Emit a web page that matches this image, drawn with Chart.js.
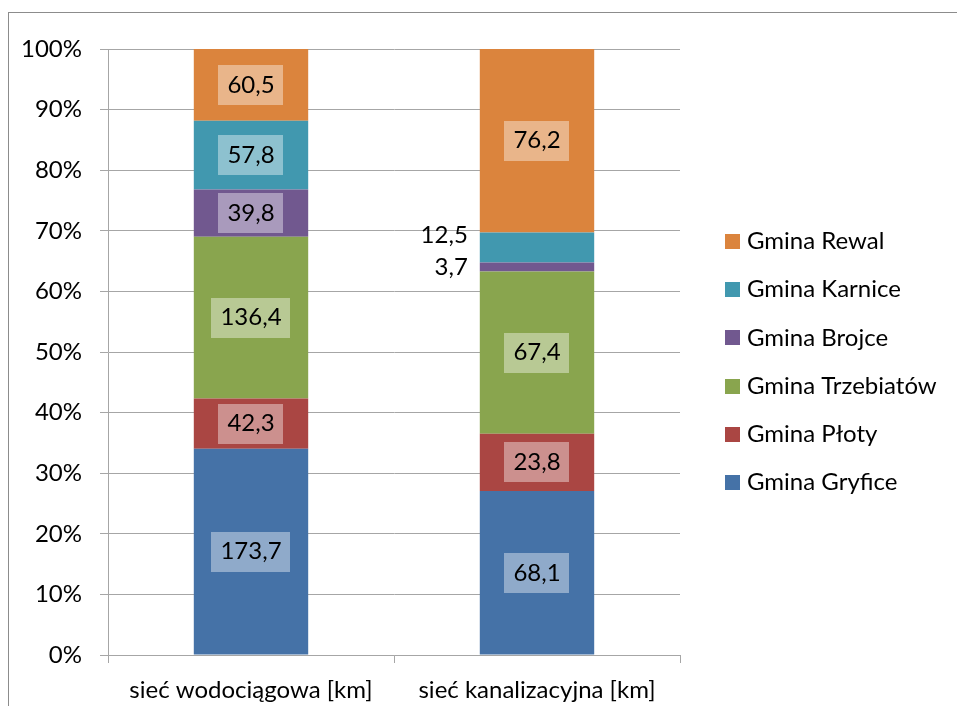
<!DOCTYPE html>
<html>
<head>
<meta charset="utf-8">
<script src="https://cdn.jsdelivr.net/npm/chart.js@4"></script>
<style>
html, body { margin: 0; padding: 0; background: #fff; }
#wrap { position: relative; width: 957px; height: 706px; overflow: hidden; }
#frame { position: absolute; left: 8px; top: 12px; width: 1000px; height: 800px; border: 1px solid #8c8c8c; }
canvas { position: absolute; left: 0; top: 0; }
</style>
</head>
<body>
<div id="wrap">
  <div id="frame"></div>
  <canvas id="myChart" width="957" height="706"></canvas>
</div>
<script>
// categories and series (km)
const categories = ['sieć wodociągowa [km]', 'sieć kanalizacyjna [km]'];
const seriesNames = ['Gmina Gryfice', 'Gmina Płoty', 'Gmina Trzebiatów', 'Gmina Brojce', 'Gmina Karnice', 'Gmina Rewal'];
const gryfice = [173.7, 68.1];
const ploty = [42.3, 23.8];
const trzebiatow = [136.4, 67.4];
const brojce = [39.8, 3.7];
const karnice = [57.8, 12.5];
const rewal = [60.5, 76.2];
const percentTicks = [0, 10, 20, 30, 40, 50, 60, 70, 80, 90, 100];

const seriesValues = [gryfice, ploty, trzebiatow, brojce, karnice, rewal];
const colors = ['#4572A7', '#AA4643', '#89A54E', '#71588F', '#4198AF', '#DB843D'];

const FONT = '24px Lato';
const GRID = '#a6a6a6';

// 100% stacking: totals per category
const totals = categories.map((c, j) => seriesValues.reduce((s, arr) => s + arr[j], 0));

const datasets = seriesValues.map((arr, i) => ({
    label: seriesNames[i],
    data: arr.map((v, j) => v / totals[j] * 100),
    raw: arr,
    backgroundColor: colors[i],
    borderWidth: 0,
    categoryPercentage: 1,
    barPercentage: 0.4
}));

function fmt(v) {
    return v.toFixed(1).replace('.', ',');
}

// value labels, boxed inside the segment or placed left of the bar when too thin
const labelPlugin = {
    id: 'segLabels',
    afterDatasetsDraw(chart) {
        const ctx = chart.ctx;
        ctx.save();
        ctx.font = FONT;
        ctx.textBaseline = 'middle';
        categories.forEach((c, j) => {
            let lastOutside = null;
            chart.data.datasets.forEach((ds, i) => {
                const bar = chart.getDatasetMeta(i).data[j];
                const p = bar.getProps(['x', 'y', 'base', 'width'], true);
                const h = p.base - p.y;
                const text = fmt(ds.raw[j]);
                let cy = (p.y + p.base) / 2;
                if (h >= 35) {
                    const w = ctx.measureText(text).width;
                    ctx.fillStyle = 'rgba(255,255,255,0.4)';
                    ctx.fillRect(Math.round(p.x - w / 2 - 9), Math.round(cy - 20), Math.round(w + 18), 40);
                    ctx.fillStyle = '#000';
                    ctx.textAlign = 'center';
                    ctx.fillText(text, p.x, cy);
                } else {
                    if (lastOutside !== null && lastOutside - cy < 32) cy = lastOutside - 32;
                    lastOutside = cy;
                    ctx.fillStyle = '#000';
                    ctx.textAlign = 'right';
                    ctx.fillText(text, p.x - p.width / 2 - 12, cy);
                }
            });
        });
        ctx.restore();
    }
};

// legend on the right, reversed order
const legendPlugin = {
    id: 'sideLegend',
    afterDraw(chart) {
        const ctx = chart.ctx;
        ctx.save();
        ctx.font = FONT;
        ctx.textBaseline = 'middle';
        ctx.textAlign = 'left';
        const items = chart.data.datasets.slice().reverse();
        items.forEach((ds, k) => {
            const cy = 241.5 + k * 48.2;
            ctx.fillStyle = ds.backgroundColor;
            ctx.fillRect(725, Math.round(cy - 7.5), 15, 15);
            ctx.fillStyle = '#000';
            ctx.fillText(ds.label, 747, cy);
        });
        ctx.restore();
    }
};

const config = {
    type: 'bar',
    data: { labels: categories, datasets: datasets },
    options: {
        responsive: false,
        animation: false,
        layout: { padding: { left: 8, right: 277, top: 49, bottom: 0 } },
        plugins: {
            legend: { display: false },
            tooltip: { enabled: false }
        },
        scales: {
            x: {
                stacked: true,
                grid: { offset: true, drawOnChartArea: false, drawTicks: true, tickLength: 8, color: GRID },
                border: { color: GRID },
                ticks: { color: '#000', font: { family: 'Lato', size: 24 }, padding: 13 },
                afterFit(scale) { scale.height = 51; }
            },
            y: {
                stacked: true,
                min: 0,
                max: 100,
                afterBuildTicks(scale) { scale.ticks = percentTicks.map(v => ({ value: v })); },
                grid: { color: GRID, tickLength: 8 },
                border: { color: GRID },
                ticks: { color: '#000', font: { family: 'Lato', size: 24 }, padding: 18, callback: v => v + '%' },
                afterFit(scale) { scale.width = 100; }
            }
        }
    },
    plugins: [labelPlugin, legendPlugin]
};

const myChart = new Chart(document.getElementById('myChart'), config);
</script>
</body>
</html>
